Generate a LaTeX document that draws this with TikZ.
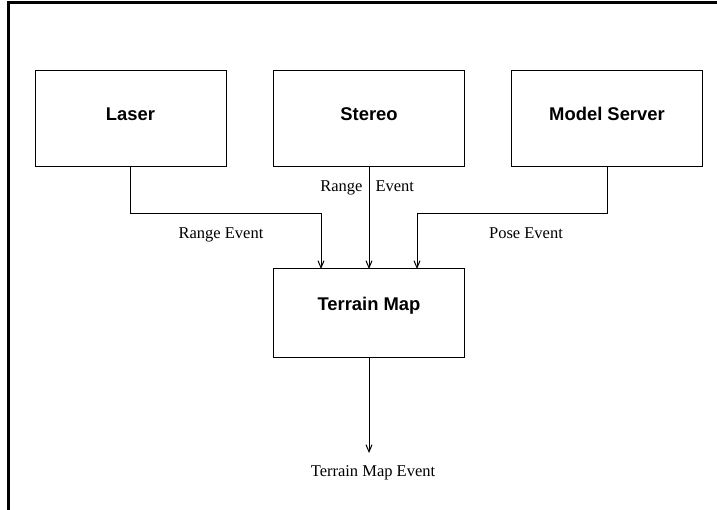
\documentclass[tikz,border=0pt]{standalone}
\usepackage{fontspec}
\setmainfont{Liberation Serif}
\setsansfont{Liberation Sans}
\usetikzlibrary{arrows.meta}
\tikzset{
 unit/.style={draw,line width=1pt,inner sep=0pt,outer sep=0pt,minimum width=191pt,minimum height=96pt,
  font=\sffamily\bfseries\fontsize{18.4}{20}\selectfont,text height=14pt,text depth=10pt},
 evt/.style={anchor=base,inner sep=0pt}
}
\begin{document}
\begin{tikzpicture}[x=1pt,y=1pt,>={Straight Barb[length=7pt,width=6pt]},line width=1pt,font=\fontsize{16.5}{18}\selectfont]
 \useasboundingbox (0,0) rectangle (717,510);
 \draw[line width=3pt] (717,507)--(8,507)--(8,0);
 \node[unit] (laser) at (130.5,391) {Laser};
 \node[unit] (stereo) at (369,391) {Stereo};
 \node[unit] (model) at (607,391) {Model Server};
 \node[unit,minimum height=89pt,text height=10pt,text depth=15pt] (map) at (369,196.5) {Terrain Map};
 \draw[->] (laser.south)--++(0,-47) -| ([xshift=-48pt]map.north);
 \draw[->] (stereo.south)--(map.north);
 \draw[->] (model.south)--++(0,-47) -| ([xshift=48pt]map.north);
 \draw[->] (map.south)--++(0,-95);
 \node[evt] (laserevt) at (221,271) {Range Event};
 \node[evt,anchor=base east] (stereoa) at (363,318) {Range};
 \node[evt,anchor=base west] (stereob) at (375,318) {Event};
 \node[evt] (poseevt) at (526,271) {Pose Event};
 \node[evt] (mapevt) at (373,33) {Terrain Map Event};
\end{tikzpicture}
\end{document}
